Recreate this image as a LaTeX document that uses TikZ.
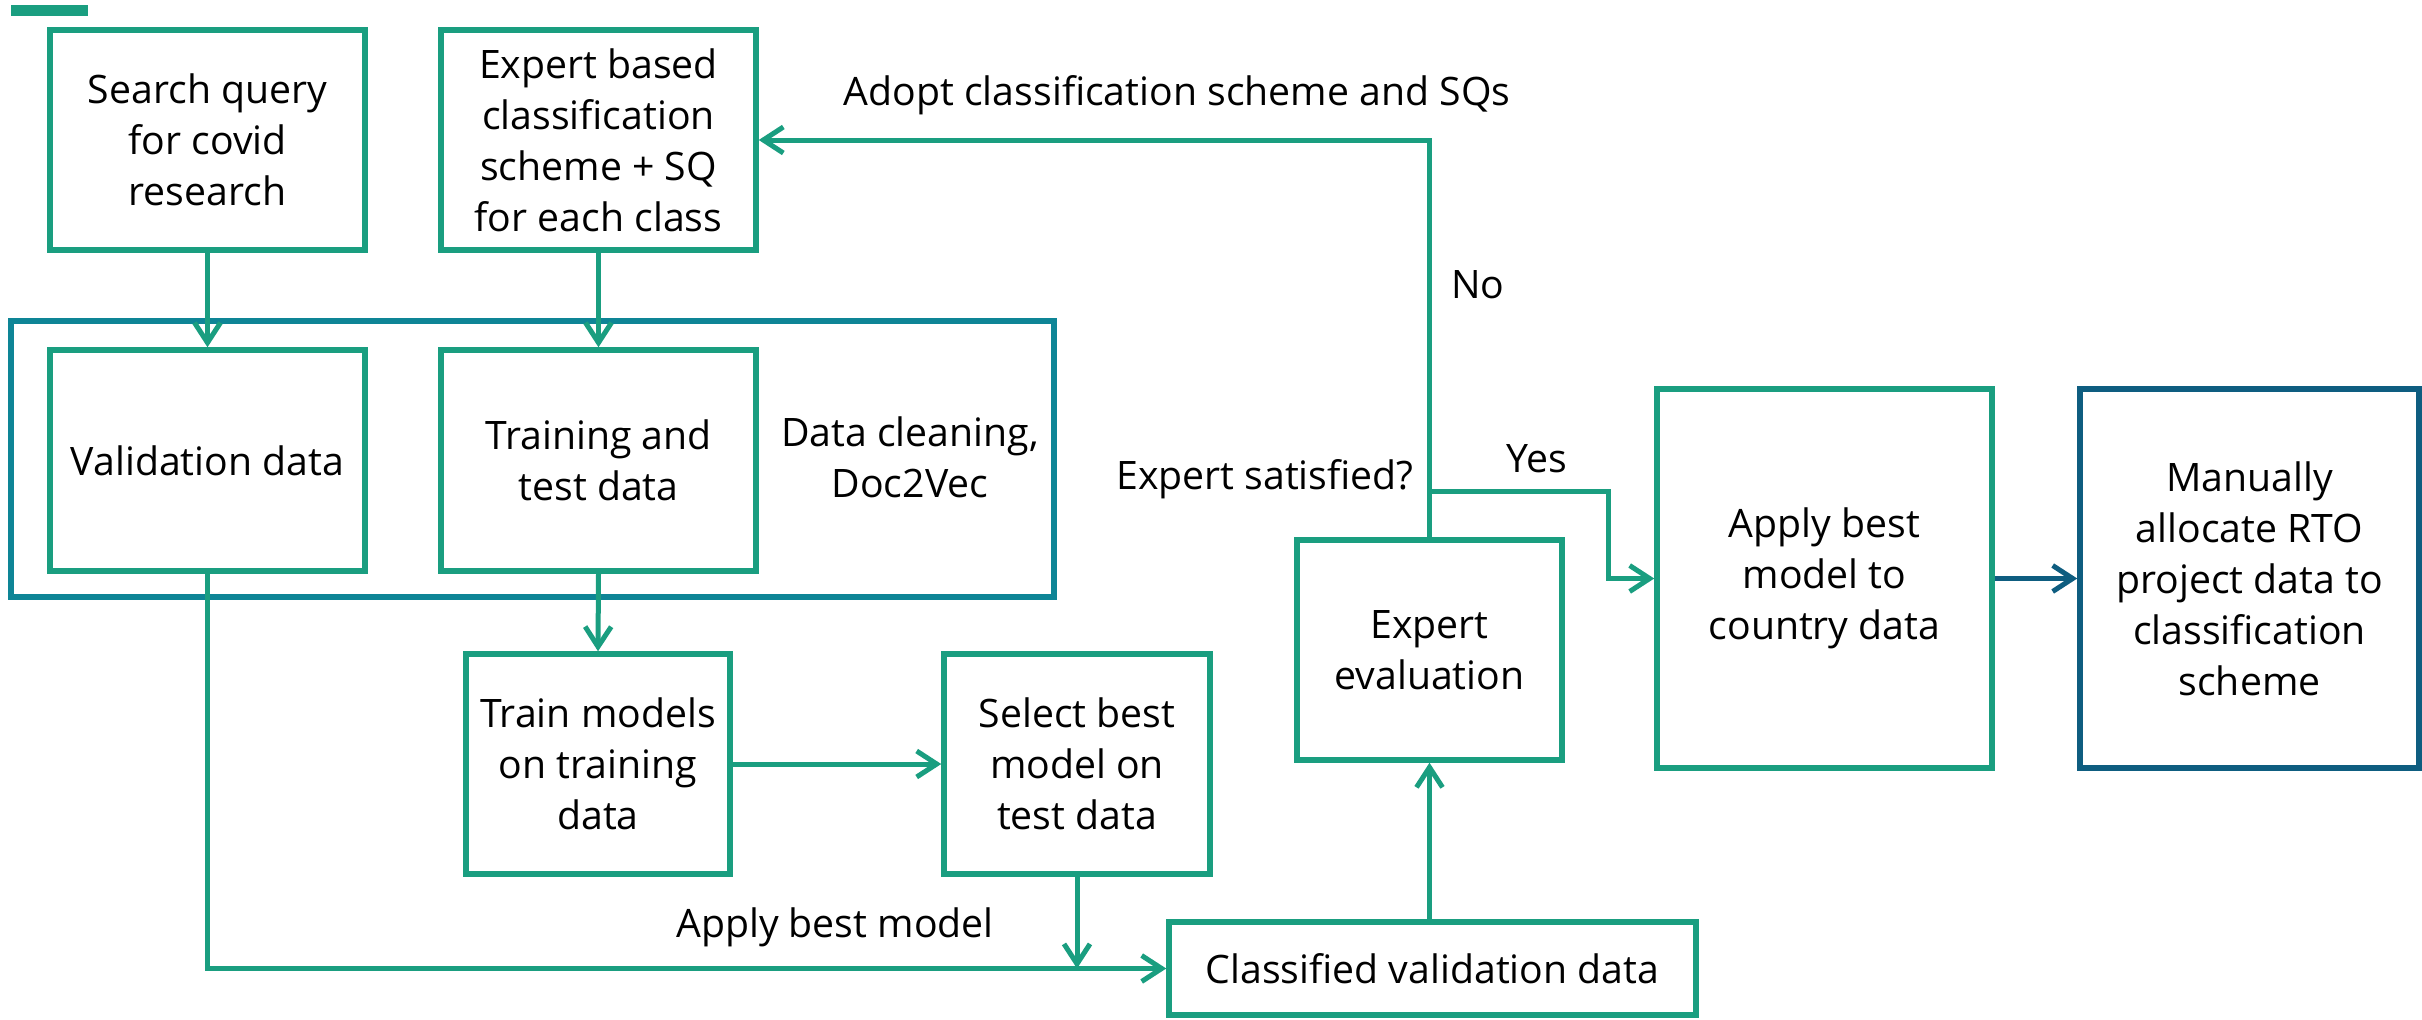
\documentclass[tikz,border=0pt]{standalone}
\usepackage{fontspec}
\setmainfont{Open Sans}
\usetikzlibrary{arrows.meta}
\definecolor{gr}{RGB}{26,158,128}
\definecolor{fr}{RGB}{14,133,150}
\definecolor{db}{RGB}{14,93,128}
\tikzset{
  box/.style={draw=gr, line width=2.75pt, fill=white, align=center, inner sep=0pt,
    font=\fontsize{19.6}{25.5}\selectfont},
  dbox/.style={box, draw=db},
  framebox/.style={draw=fr, line width=2.75pt, inner sep=0pt},
  conn/.style={draw=gr, line width=2.5pt, -{Straight Barb[length=10pt,width=13pt]}},
  dconn/.style={conn, draw=db},
  lbl/.style={inner sep=0pt, font=\fontsize{19.6}{25.5}\selectfont, align=center}
}
\begin{document}
\begin{tikzpicture}[x=0.5pt,y=-0.5pt]
\useasboundingbox (0,0) rectangle (2422,1019);
\fill[gr] (11,5) rectangle (88,16);

\node[framebox, minimum width=521.5pt, minimum height=138pt] (frame) at (532.5,459) {};

\node[box, minimum width=157.5pt, minimum height=110pt] (search) at (207.5,140) {Search query\\for covid\\research};
\node[box, minimum width=157.5pt, minimum height=110pt] (expert) at (598.5,140) {Expert based\\classification\\scheme + SQ\\for each class};
\node[box, minimum width=157.5pt, minimum height=110.5pt] (valid) at (207.5,460.5) {Validation data};
\node[box, minimum width=157.5pt, minimum height=110.5pt] (training) at (598.5,460.5) {Training and\\test data};
\node[lbl] (clean) at (910,457) {Data cleaning,\\Doc2Vec};
\node[box, minimum width=132pt, minimum height=110pt] (trainm) at (598,764) {Train models\\on training\\data};
\node[box, minimum width=133pt, minimum height=110pt] (select) at (1077,764) {Select best\\model on\\test data};
\node[box, minimum width=263.5pt, minimum height=46.5pt] (classified) at (1432.5,968.5) {Classified validation data};
\node[box, minimum width=132.5pt, minimum height=110pt] (eval) at (1429.5,650) {Expert\\evaluation};
\node[box, minimum width=167.5pt, minimum height=189.5pt] (apply) at (1824.5,578.5) {Apply best\\model to\\country data};
\node[dbox, minimum width=169.5pt, minimum height=189.5pt] (manual) at (2249.5,578.5) {Manually\\allocate RTO\\project data to\\classification\\scheme};

\draw[conn] (search.south) -- (valid.north);
\draw[conn] (expert.south) -- (training.north);
\draw[conn] (training.south) -- (trainm.north);
\draw[conn] (trainm.east) -- (select.west);
\draw[conn] (valid.south) |- (classified.west);
\coordinate (jn) at (select.south |- classified.west);
\draw[conn] (select.south) -- (jn);
\draw[conn] (eval.south |- classified.north) -- (eval.south);
\draw[conn] (eval.north) |- (expert.east);
\coordinate (ys) at (1430,491);
\coordinate (yb) at (1608,491);
\draw[conn] (ys) -- (yb) |- (apply.west);
\draw[dconn] (apply.east) -- (manual.west);

\node[lbl, anchor=base] (adopt) at (1177,105) {Adopt classification scheme and SQs};
\node[lbl, anchor=base] (no) at (1478,298) {No};
\node[lbl, anchor=base] (yes) at (1537,472) {Yes};
\node[lbl, anchor=base east] (sat) at (1414,489) {Expert satisfied?};
\node[lbl, anchor=base] (abm) at (835,937) {Apply best model};
\end{tikzpicture}
\end{document}
